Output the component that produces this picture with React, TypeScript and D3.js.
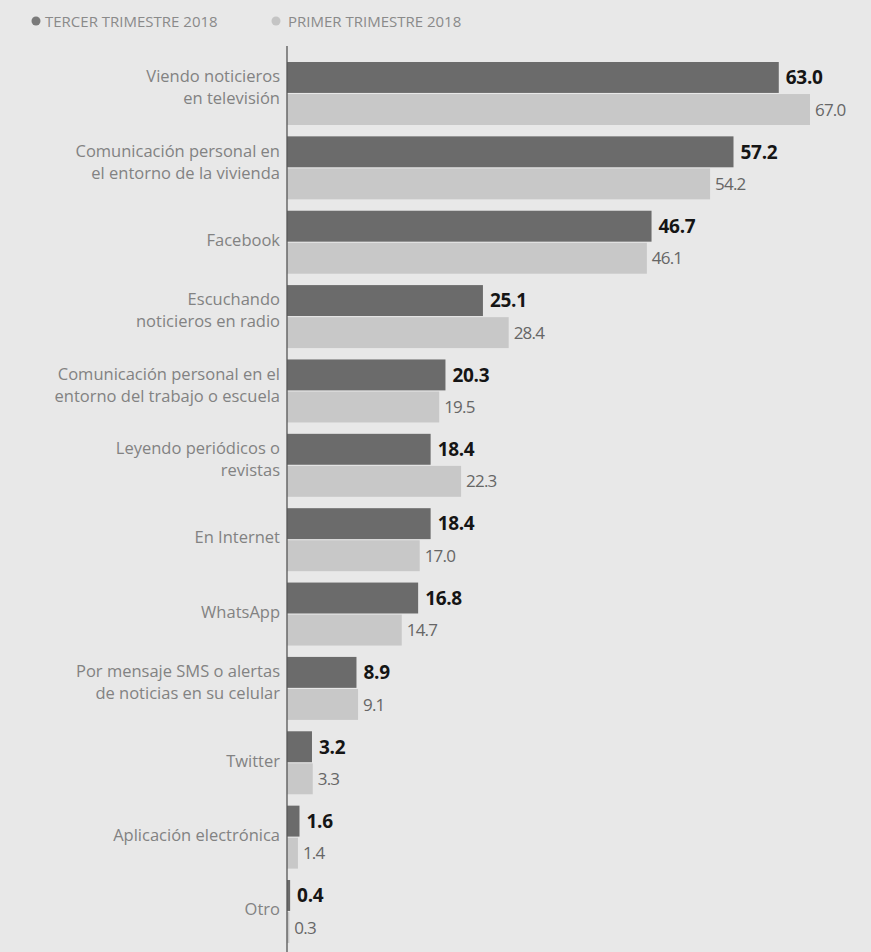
import * as d3 from "d3";
import React, { useEffect } from "react";

const categories = [
  ["Viendo noticieros", "en televisión"],
  ["Comunicación personal en", "el entorno de la vivienda"],
  ["Facebook"],
  ["Escuchando", "noticieros en radio"],
  ["Comunicación personal en el", "entorno del trabajo o escuela"],
  ["Leyendo periódicos o", "revistas"],
  ["En Internet"],
  ["WhatsApp"],
  ["Por mensaje SMS o alertas", "de noticias en su celular"],
  ["Twitter"],
  ["Aplicación electrónica"],
  ["Otro"],
];
const tercer = [63.0, 57.2, 46.7, 25.1, 20.3, 18.4, 18.4, 16.8, 8.9, 3.2, 1.6, 0.4];
const primer = [67.0, 54.2, 46.1, 28.4, 19.5, 22.3, 17.0, 14.7, 9.1, 3.3, 1.4, 0.3];
const seriesNames = ["TERCER TRIMESTRE 2018", "PRIMER TRIMESTRE 2018"];

const W = 871;
const H = 952;
const font = "'Open Sans', sans-serif";
const darkColor = "#6b6b6b";
const lightColor = "#c8c8c8";

export default function App() {
  useEffect(() => {
    document.body.style.margin = "0";
  }, []);

  const keys = categories.map((_, i) => String(i));
  const x = d3.scaleLinear().domain([0, 67]).range([287, 810]);
  const y = d3
    .scaleBand()
    .domain(keys)
    .range([62, 943])
    .paddingInner(0.153)
    .paddingOuter(0)
    .align(0);
  const inner = d3
    .scaleBand()
    .domain(["t", "p"])
    .range([0, y.bandwidth()])
    .paddingInner(0.035);

  return (
    <svg width={W} height={H} style={{ display: "block", background: "#e8e8e8" }}>
      <rect width={W} height={H} fill="#e8e8e8" />
      {/* legend */}
      <g fontFamily={font} fontSize={15} fill="#8a8a8a">
        <circle cx={36} cy={21} r={4.5} fill="#7a7a7a" />
        <text x={45} y={27}>{seriesNames[0]}</text>
        <circle cx={276} cy={21} r={4.5} fill="#c4c4c4" />
        <text x={288} y={27}>{seriesNames[1]}</text>
      </g>
      {keys.map((k, i) => {
        const y0 = y(k)!;
        const yt = y0 + inner("t")!;
        const yp = y0 + inner("p")!;
        const bh = inner.bandwidth();
        const lines = categories[i];
        const cy = y0 + y.bandwidth() / 2 - (lines.length > 1 ? 6 : 2);
        const lh = 22;
        return (
          <g key={k}>
            <rect x={x(0)} y={yt} width={x(tercer[i]) - x(0)} height={bh} fill={darkColor} />
            <rect x={x(0)} y={yp} width={x(primer[i]) - x(0)} height={bh} fill={lightColor} />
            <text
              x={x(tercer[i]) + 7}
              y={yt + bh / 2}
              dy="0.36em"
              fontFamily={font}
              fontSize={19}
              fontWeight={700}
              fill="#151515"
              letterSpacing={-0.3}
            >
              {tercer[i].toFixed(1)}
            </text>
            <text
              x={x(primer[i]) + 5}
              y={yp + bh / 2}
              dy="0.36em"
              fontFamily={font}
              fontSize={17}
              fill="#666"
              letterSpacing={-0.8}
            >
              {primer[i].toFixed(1)}
            </text>
            <g fontFamily={font} fontSize={16.5} fill="#828282" textAnchor="end">
              {lines.map((t, j) => (
                <text
                  key={j}
                  x={280}
                  y={cy + (j - (lines.length - 1) / 2) * lh}
                  dy="0.35em"
                >
                  {t}
                </text>
              ))}
            </g>
          </g>
        );
      })}
      <line x1={x(0)} x2={x(0)} y1={46} y2={H} stroke="#555" strokeWidth={1.3} />
    </svg>
  );
}
